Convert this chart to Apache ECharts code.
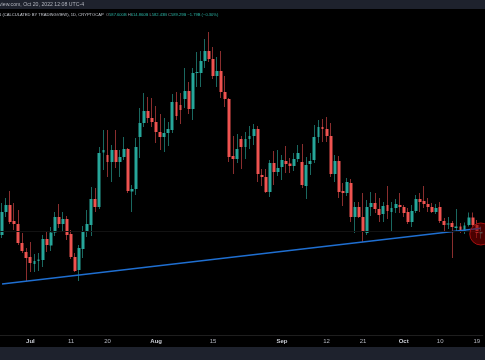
<!DOCTYPE html>
<html><head><meta charset="utf-8">
<script src="https://cdn.jsdelivr.net/npm/echarts/dist/echarts.min.js"></script>
<style>html,body{margin:0;padding:0;background:#000;}#c{width:485px;height:360px;}</style>
</head><body><div id="c"></div>
<script>
// Daily candles, Jun 24 2022 .. Oct 20 2022 (values in billions USD)
const startDate = '2022-06-24';
const dayCount = 119;
const openV = [586,609,616,600,597,578,569,564,557,560,561,582,575.5,588.5,604,597,602,587,564,551,
572,589,596,622,614,668.5,666,659,671,659,664,672,629.5,632,684,698,710,703,699,689,
684,688,691,719,716,722,730,712,748,748,760,770,762,745,750,729,722,665,662,682,
674,682,685,692,646,644,629,658,649,654,660,657.5,655,662,659,635,657,661,684,694,
692,685,647,660,630,628,638,604,614,604,588,614,618,612,607,616,609,613,616,614,
609,599,610,622,620,617,614,609,614,600,596.5,598,593,594.5,589.5,596,603.5,596,587.6];
const closeV = [609,616,599,597,578,570,563,558,560,561.5,582,576,588.5,604,597,602,586,564,550,573,
589,597,622,614,668,671,659,671,659,664,672,630,632,674,698,710,703,699,689,684,
688,692,719,705,711,730,712,748,749,760,770,762,745,750,729,722,664,662,672,674,
682,685,692,647,644,629,658,649,653,661,657,655,662,668,636,656,660,684,694,692,
685,647,660,629,628,639,604,614,604,589,614,618,612,606,615,610,613,617,614,608,
599,610,622,619,617,614,609,613,600,596,597.5,594,594.5,590.5,595.5,603.5,596,588,589.3];
const lowV = [583,604,597,591,576,568,540,549,549,550,554,569,570,585,593,589,581,562,549,540,
563,584,585,609,612,651,644,639,653,644,661,628,609,626,663,694,698,694,678,671,
669,675,688,701,697,713,707,701,734,734,753,759,742,734,723,714,659,647,658,652,
662,672,676,639,635,628,624,636,645,641,648,648,650,659,633,622,646,658,678,679,
679,644,639,623,615,625,599,588,603,579,586,605,608,599,599,602,590,608,608,604,
597,594,608,609,613,609,608,607,598,589,592,563,589,588,587,594.5,594,583,582.4];
const highV = [618,623,630,618,611,588,573,579,567,568,586,590,594,609,617,609,605,591,568,576,
595,611,634,633,674,691,691,676,691,671,684,673,636,683,713,728,724,723,715,707,
703,699,727,729,728,753,739,753,769,770,782,789,774,764,770,745,723,685,687,685,
689,695,697,695,652,652,661,670,671,666,675,663,668,676,677,664,668,696,701,702,
704,698,666,665,638,643,642,619,619,628,621,629,628,623,619,635,619,622,628,616,
613,616,626,628,635,623,618,617,619,603,604,600,612,598,598.5,608.5,608.5,601,594.3];

const tickDates  = ['2022-07-01','2022-07-11','2022-07-20','2022-08-01','2022-08-15','2022-09-01',
                    '2022-09-12','2022-09-21','2022-10-01','2022-10-10','2022-10-19'];
const tickLabels = ['Jul','11','20','Aug','15','Sep','12','21','Oct','10','19'];
const monthLabels = ['Jul','Aug','Sep','Oct'];

const trendStart = 537.1;   // trendline value at first candle
const trendEnd = 592.8;     // trendline value at last candle
const lastClose = 589.3;
const circleValue = 587;

const headerLine1 = 'view.com, Oct 20, 2022 12:08 UTC-4';
const headerSymbol = '1 (CALCULATED BY TRADINGVIEW), 1D, CRYPTOCAP';
const headerOHLC = [['O','587.600B'],['H','614.860B'],['L','582.43B'],['C','589.29B']];
const headerChange = '\u22121.79B (\u22120.30%)';

const dates = [];
(function(){
  const t0 = Date.UTC(2022,5,24);
  for (let i = 0; i < dayCount; i++) {
    const d = new Date(t0 + i*86400000);
    dates.push(d.toISOString().slice(0,10));
  }
})();

const fullData = openV.map((o,i)=>[o, closeV[i], lowV[i], highV[i]]);
const bodyData = openV.map((o,i)=>[o, closeV[i], Math.min(o,closeV[i]), Math.max(o,closeV[i])]);

const UP = '#26a69a', DOWN = '#ef5350';
const WUP = '#1a6860', WDOWN = '#8a2e2e';

let line2 = '{s|' + headerSymbol + '}  ';
headerOHLC.forEach(p => { line2 += '{k|' + p[0] + '}{v|' + p[1] + '} '; });
line2 += '{v|' + headerChange + '}';

const chart = echarts.init(document.getElementById('c'), null, {renderer:'canvas'});
chart.setOption({
  backgroundColor: '#000000',
  animation: false,
  grid: {left: -1.5, right: 2.2, top: 20, bottom: 25},
  xAxis: {
    type: 'category', data: dates, boundaryGap: true,
    axisLine: {show: true, lineStyle: {color: '#1e1e1e', width: 1}},
    axisTick: {show: false},
    splitLine: {show: false},
    axisLabel: {
      margin: 3, fontSize: 6, color: '#b2b5be', fontFamily: 'Liberation Sans',
      interval: function(idx, val){ return tickDates.indexOf(val) >= 0; },
      formatter: function(val){
        const k = tickDates.indexOf(val);
        if (k < 0) return '';
        const t = tickLabels[k];
        return monthLabels.indexOf(t) >= 0 ? '{b|' + t + '}' : t;
      },
      rich: {b: {fontWeight: 'bold', fontSize: 6, color: '#c8cbd3', fontFamily: 'Liberation Sans'}}
    }
  },
  yAxis: {
    type: 'value', min: 486, max: 801, show: false, scale: true,
    splitLine: {show: false}
  },
  series: [
    {
      type: 'candlestick', name: 'wicks', data: fullData, barWidth: 1, silent: true, z: 2,
      itemStyle: {color: WUP, color0: WDOWN, borderColor: WUP, borderColor0: WDOWN, borderWidth: 1}
    },
    {
      type: 'candlestick', name: 'bodies', data: bodyData, barWidth: 3.4, silent: true, z: 3,
      itemStyle: {color: UP, color0: DOWN, borderColor: UP, borderColor0: DOWN, borderWidth: 0},
      markLine: {
        silent: true, symbol: ['none','none'], animation: false,
        label: {show: false},
        data: [
          [{coord: [dates[0], trendStart], lineStyle: {color: '#1f6fd1', width: 1.5, type: 'solid'}},
           {coord: [dates[dayCount-1], trendEnd]}],
          {yAxis: lastClose, lineStyle: {color: '#121212', width: 1, type: 'solid'}}
        ]
      },
      markPoint: {
        silent: true, symbol: 'circle', symbolSize: 22, label: {show: false},
        itemStyle: {color: 'rgba(135,0,0,0.55)', borderColor: '#a50f0f', borderWidth: 1},
        data: [{coord: [dates[dayCount-1], circleValue]}]
      }
    }
  ],
  graphic: [
    {type: 'rect', left: 0, top: 0, shape: {width: 485, height: 9}, style: {fill: '#1e222d'}, z: 10},
    {type: 'rect', left: 0, top: 347, shape: {width: 485, height: 13}, style: {fill: '#1e222d'}, z: 10},
    {type: 'text', x: -1, y: 5, z: 11, style: {text: headerLine1, fill: '#b2b5be', fontSize: 5.2,
      fontFamily: 'Liberation Sans', verticalAlign: 'middle'}},
    {type: 'text', x: -1, y: 14.5, z: 11, style: {text: line2, fontSize: 4.1, fontFamily: 'Liberation Sans',
      verticalAlign: 'middle',
      rich: {
        s: {fill: '#c9ccd4', fontSize: 4.1, fontFamily: 'Liberation Sans'},
        k: {fill: '#9598a1', fontSize: 4.1, fontFamily: 'Liberation Sans'},
        v: {fill: '#2bb3a4', fontSize: 4.1, fontFamily: 'Liberation Sans'}
      }}}
  ]
});
</script></body></html>
